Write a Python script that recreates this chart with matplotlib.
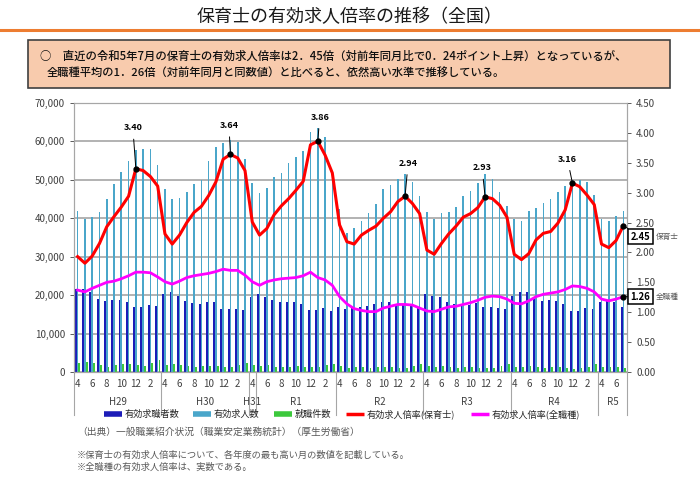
import numpy as np
import matplotlib
matplotlib.use('Agg')
import matplotlib.pyplot as plt
from matplotlib.patches import Rectangle
from matplotlib.lines import Line2D

plt.rcParams['font.family'] = ['Noto Sans CJK JP', 'DejaVu Sans']

# fiscal year groups (Apr 2017 - Jul 2023)
year_labels = ['H29', 'H30', 'H31', 'R1', 'R2', 'R3', 'R4', 'R5']
year_counts = [12, 12, 1, 11, 12, 12, 12, 4]

# 有効求職者数 (persons)
seekers = [21600, 21500, 20700, 19000, 18500, 18700, 18700, 18300, 16800, 17000, 17500, 17200,
           20300, 20700, 19800, 18500, 17900, 17700, 18200, 18100, 16400, 16400, 16500, 16200,
           19600, 20300, 19600, 18800, 18100, 18200, 18300, 17700, 16200, 16200, 16600, 15900,
           17000, 16400, 17000, 17000, 17200, 17700, 18300, 18200, 17700, 17500, 17700, 17000,
           20300, 19900, 19400, 18100, 17700, 17700, 17500, 17900, 17000, 17000, 16600, 16400,
           19900, 20900, 20800, 19000, 18600, 18800, 18600, 17700, 15800, 15900, 16600, 16400,
           18300, 18500, 18300, 16900]
# 有効求人数
openings = [41800, 39900, 40400, 41700, 45100, 48900, 52100, 55000, 57700, 58100, 58100, 53800,
            47500, 45000, 45300, 46800, 48800, 49900, 55000, 58500, 59500, 60500, 59800, 55500,
            49200, 46600, 47900, 50800, 51700, 54400, 56000, 57500, 62500, 63600, 61100, 51400,
            42400, 36300, 37500, 39400, 41400, 43800, 47600, 48700, 50200, 51400, 49500, 45700,
            41700, 39800, 41300, 41700, 43000, 45800, 47000, 49200, 51500, 50100, 46900, 43100,
            39900, 39400, 42000, 42700, 44000, 44900, 46900, 48500, 49900, 49900, 49500, 46000,
            39900, 39400, 40700, 41800]
# 就職件数
placements = [2300, 2500, 2400, 1700, 1400, 1900, 2000, 2000, 1900, 1500, 2400, 3000,
              1800, 2000, 1700, 1500, 1200, 1500, 1600, 1500, 1300, 1300, 1800, 2400,
              1800, 1600, 1700, 1400, 1200, 1400, 1500, 1400, 1200, 1300, 1700, 2200,
              1600, 1000, 1400, 1300, 1100, 1300, 1300, 1200, 1000, 1100, 1600, 2200,
              1500, 1300, 1500, 1200, 1000, 1200, 1300, 1100, 1000, 1100, 1500, 2000,
              1400, 1300, 1500, 1200, 1000, 1200, 1200, 1100, 900, 1000, 1400, 2000,
              1400, 1200, 1400, 1100]
# 有効求人倍率(保育士)
ratio_hoiku = [1.93, 1.82, 1.94, 2.15, 2.43, 2.60, 2.76, 2.94, 3.40, 3.37, 3.27, 3.11,
               2.31, 2.14, 2.29, 2.50, 2.67, 2.77, 2.95, 3.18, 3.56, 3.64, 3.58, 3.37,
               2.51, 2.29, 2.40, 2.63, 2.78, 2.90, 3.04, 3.19, 3.80, 3.86, 3.63, 3.33,
               2.46, 2.18, 2.14, 2.29, 2.37, 2.44, 2.57, 2.68, 2.85, 2.94, 2.82, 2.65,
               2.04, 1.97, 2.15, 2.31, 2.44, 2.59, 2.65, 2.75, 2.93, 2.90, 2.79, 2.59,
               1.97, 1.88, 1.98, 2.21, 2.32, 2.35, 2.49, 2.71, 3.16, 3.10, 2.96, 2.80,
               2.14, 2.08, 2.20, 2.45]
# 有効求人倍率(全職種)
ratio_all = [1.37, 1.34, 1.40, 1.45, 1.50, 1.52, 1.56, 1.61, 1.67, 1.67, 1.66, 1.59,
             1.51, 1.47, 1.52, 1.58, 1.61, 1.63, 1.65, 1.68, 1.72, 1.70, 1.70, 1.62,
             1.51, 1.45, 1.51, 1.54, 1.56, 1.57, 1.58, 1.61, 1.67, 1.58, 1.54, 1.45,
             1.26, 1.14, 1.06, 1.03, 1.01, 1.01, 1.07, 1.10, 1.13, 1.13, 1.12, 1.07,
             1.02, 1.01, 1.05, 1.09, 1.10, 1.13, 1.16, 1.20, 1.25, 1.27, 1.26, 1.22,
             1.15, 1.14, 1.19, 1.26, 1.30, 1.32, 1.34, 1.38, 1.44, 1.43, 1.40, 1.34,
             1.22, 1.19, 1.22, 1.26]

peak_idx = [8, 21, 33, 45, 56, 68]
# label offsets from the point (pixels, right / up)
peak_off = [(-3, 41), (-1.5, 29), (2, 24), (3, 33), (-3, 29), (-5, 24)]

n = len(seekers)
x = np.arange(n)
months = [(3 + i) % 12 + 1 for i in range(n)]

W, H = 700, 480
fig = plt.figure(figsize=(7, 4.8), dpi=100)
px = 72 / 100  # pixels -> points

# title, rule and summary box
fig.text(350 / W, 1 - 17 / H, '保育士の有効求人倍率の推移（全国）', ha='center', va='center',
         fontsize=13, color='#1a1a1a')
fig.add_artist(Line2D([0, 1], [1 - 30 / H] * 2, color='#ED7D31', lw=2.2))
fig.add_artist(Rectangle((28 / W, 1 - 88 / H), (670 - 28) / W, 48 / H,
                         facecolor='#F8CBAD', edgecolor='#404040', lw=1.2))
fig.text(40 / W, 1 - 56 / H,
         '○　直近の令和5年7月の保育士の有効求人倍率は2．45倍（対前年同月比で0．24ポイント上昇）となっているが、',
         ha='left', va='center', fontsize=8.2, color='#111111', fontweight='medium')
fig.text(47 / W, 1 - 72 / H,
         '全職種平均の1．26倍（対前年同月と同数値）と比べると、依然高い水準で推移している。',
         ha='left', va='center', fontsize=8.1, color='#111111', fontweight='medium')

# main axes
ax = fig.add_axes([74 / W, 1 - 372 / H, (627 - 74) / W, (372 - 103) / H])
ax.bar(x - 0.24, seekers, width=0.27, color='#1C1CB8', zorder=2)
ax.bar(x, openings, width=0.22, color='#4AA6CA', zorder=2)
ax.bar(x + 0.24, placements, width=0.25, color='#3CC83C', zorder=2)
ax.set_xlim(-0.5, n - 0.5)
ax.set_ylim(0, 70000)
ax.set_yticks(np.arange(0, 70001, 10000))
ax.set_yticklabels([f'{v:,}' for v in range(0, 70001, 10000)])
ax.yaxis.grid(True, color='#A6A6A6', lw=1.2, zorder=0)
ax.set_axisbelow(True)
ax.tick_params(axis='y', labelsize=7, colors='#404040', length=3, width=0.6)
for s in ax.spines.values():
    s.set_color('#A6A6A6')
    s.set_linewidth(0.8)

tick_pos = [i for i in range(n) if months[i] % 2 == 0]
ax.set_xticks(tick_pos)
ax.set_xticklabels([str(months[i]) for i in tick_pos])
ax.tick_params(axis='x', length=0, pad=5, labelsize=7, colors='#404040')

# fiscal year groups below the axis
tr = ax.get_xaxis_transform()
start = 0
bounds = [0]
for lab, c in zip(year_labels, year_counts):
    ax.text(start + (c - 1) / 2, -0.112, lab, transform=tr, ha='center', va='center',
            fontsize=7, color='#404040')
    start += c
    bounds.append(start)
for b in bounds:
    ax.add_line(Line2D([b - 0.5, b - 0.5], [0, -0.16], transform=tr, clip_on=False,
                       color='#A6A6A6', lw=0.8))

# ratio axis
ax2 = ax.twinx()
ax2.plot(x, ratio_hoiku, color='#FF0000', lw=2.2, zorder=3)
ax2.plot(x, ratio_all, color='#FF00FF', lw=2.0, zorder=3)
ax2.set_ylim(0, 4.5)
ax2.set_yticks(np.arange(0, 4.51, 0.5))
ax2.set_yticklabels([f'{v:.2f}' for v in np.arange(0, 4.51, 0.5)])
ax2.tick_params(axis='y', labelsize=7, colors='#404040', length=3, width=0.6)
for s in ax2.spines.values():
    s.set_color('#A6A6A6')
    s.set_linewidth(0.8)

for i, (dx, dy) in zip(peak_idx, peak_off):
    v = ratio_hoiku[i]
    ax2.plot(i, v, 'o', color='black', ms=3.5, zorder=4)
    ax2.annotate(f'{v:.2f}', xy=(i, v), xytext=(dx * px, dy * px), textcoords='offset points',
                 ha='center', va='center', fontsize=6.5, fontweight='bold',
                 arrowprops=dict(arrowstyle='-', color='black', lw=0.7, shrinkA=3, shrinkB=0))

# end-of-series boxed labels
last = n - 1
for vals, name, off in [(ratio_hoiku, '保育士', (17, -11)), (ratio_all, '全職種', (17, 0))]:
    v = vals[last]
    ax2.plot(last, v, 'o', color='black', ms=3.5, zorder=4, clip_on=False)
    ax2.annotate(f'{v:.2f}', xy=(last, v), xytext=(off[0] * px, off[1] * px),
                 textcoords='offset points', ha='center', va='center', fontsize=6.8,
                 fontweight='bold', annotation_clip=False,
                 bbox=dict(boxstyle='square,pad=0.25', fc='white', ec='black', lw=1.1),
                 arrowprops=dict(arrowstyle='-', color='black', lw=0.7, shrinkA=0, shrinkB=0))
    ax2.annotate(name, xy=(last, v), xytext=((off[0] + 15) * px, off[1] * px),
                 textcoords='offset points', ha='left', va='center', fontsize=5.5,
                 color='#595959', annotation_clip=False)

# legend, laid out by hand below the year labels
leg_colors = ['#1C1CB8', '#4AA6CA', '#3CC83C', '#FF0000', '#FF00FF']
leg_widths = [4, 4, 4, 2.5, 2.5]
leg_labels = ['有効求職者数', '有効求人数', '就職件数', '有効求人倍率(保育士)', '有効求人倍率(全職種)']
leg_x = [104, 193, 274, 346, 471]
leg_y = 1 - 414 / H
for lx, c, lw, lab in zip(leg_x, leg_colors, leg_widths, leg_labels):
    fig.add_artist(Line2D([lx / W, (lx + 18) / W], [leg_y, leg_y], color=c, lw=lw,
                          solid_capstyle='butt'))
    fig.text((lx + 21) / W, leg_y, lab, ha='left', va='center', fontsize=6.6, color='#262626')

# notes
fig.text(77 / W, 1 - 432 / H, '（出典）一般職業紹介状況（職業安定業務統計）（厚生労働省）',
         ha='left', va='center', fontsize=7, color='#595959')
fig.text(77 / W, 1 - 455 / H, '※保育士の有効求人倍率について、各年度の最も高い月の数値を記載している。',
         ha='left', va='center', fontsize=6.7, color='#595959')
fig.text(77 / W, 1 - 467 / H, '※全職種の有効求人倍率は、実数である。',
         ha='left', va='center', fontsize=6.7, color='#595959')

fig.savefig('out.png', dpi=100)
